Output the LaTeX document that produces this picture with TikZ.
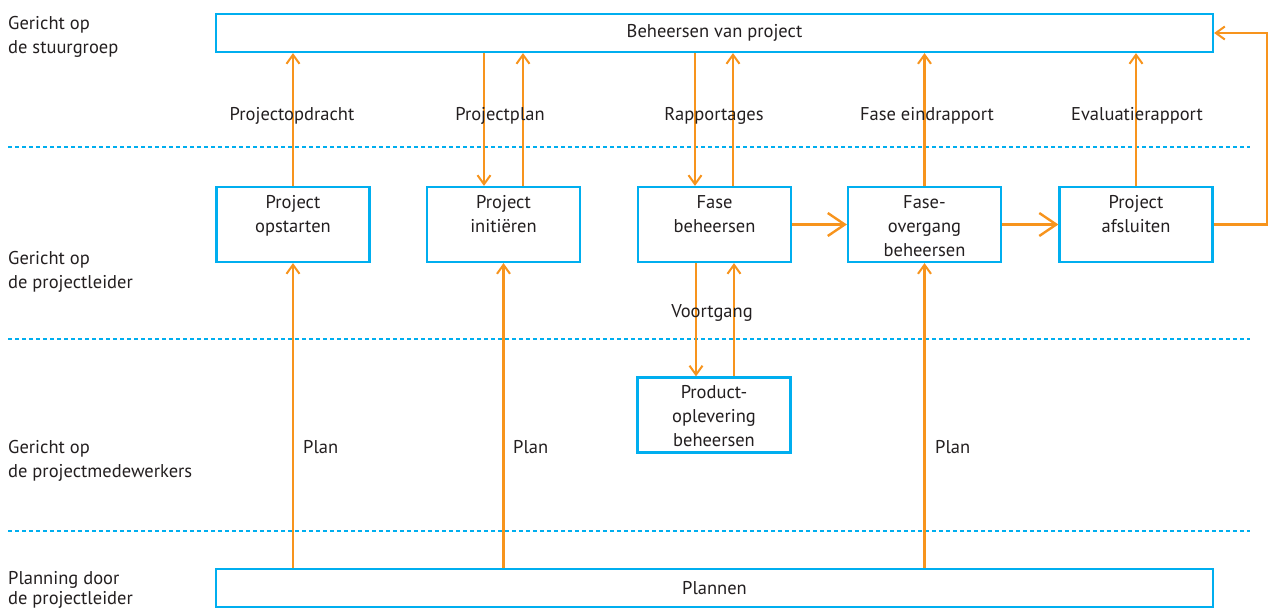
\documentclass[tikz,border=0pt]{standalone}
\usepackage{fontspec}
\setmainfont{PT Sans}
\usetikzlibrary{arrows.meta}
\definecolor{boxblue}{HTML}{00AEEF}
\definecolor{flow}{HTML}{F7941D}
\definecolor{ink}{HTML}{231F20}
\tikzset{
  box/.style={draw=boxblue, line width=2.2pt, fill=white, inner sep=0pt},
  smallbox/.style={box, minimum width=153pt, minimum height=75pt},
  widebox/.style={box, minimum width=997pt, minimum height=38pt},
  boxtext/.style={anchor=north, align=center, inner sep=0pt, yshift=-9pt, text=ink,
    font=\fontsize{18.5}{24}\selectfont},
  lbl/.style={text=ink, font=\fontsize{18.5}{24}\selectfont, inner sep=0pt},
  side/.style={lbl, anchor=north west, align=left},
  lane/.style={draw=boxblue, line width=2pt, dash pattern=on 4pt off 3pt},
  flowline/.style={draw=flow, line width=2.4pt},
  arr/.style={flowline, -{Straight Barb[length=9pt, width=13pt, line width=2pt]}},
  bigarr/.style={flowline, -{Straight Barb[length=17pt, width=23pt, line width=2.4pt]}},
}
\begin{document}
\begin{tikzpicture}[x=1pt, y=-1pt]
\useasboundingbox (0,0) rectangle (1271,610);

% swim-lane separators
\draw[lane] (8,147) -- (1250,147);
\draw[lane] (8,339) -- (1250,339);
\draw[lane] (8,531) -- (1250,531);

% lane titles
\node[side] (t1) at (8,16) {Gericht op\\de stuurgroep};
\node[side] (t2) at (8,251) {Gericht op\\de projectleider};
\node[side] (t3) at (8,440) {Gericht op\\de projectmedewerkers};
\node[side, font=\fontsize{18.5}{20}\selectfont] (t4) at (8,571) {Planning door\\de projectleider};

% process boxes
\node[widebox] (top) at (714.5,33) {};
\node[lbl] at (top.center) {Beheersen van project};
\node[widebox] (bot) at (714.5,588) {};
\node[lbl] at (bot.center) {Plannen};

\node[smallbox, label={[boxtext]north:{Project\\opstarten}}] (ops) at (293,224.5) {};
\node[smallbox, label={[boxtext]north:{Project\\initiëren}}] (ini) at (503.5,224.5) {};
\node[smallbox, label={[boxtext]north:{Fase\\beheersen}}] (fas) at (714.5,224.5) {};
\node[smallbox, label={[boxtext]north:{Fase-\\overgang\\beheersen}}] (ovg) at (924.5,224.5) {};
\node[smallbox, label={[boxtext]north:{Project\\afsluiten}}] (afs) at (1136,224.5) {};
\node[smallbox, label={[boxtext]north:{Product-\\oplevering\\beheersen}}] (prd) at (714,415) {};

% reports to the steering group
\draw[arr] (ops.north) -- (ops.north |- top.south);
\draw[arr] (top.south -| 484,0) -- (ini.north -| 484,0);
\draw[arr] (ini.north -| 523,0) -- (top.south -| 523,0);
\draw[arr] (top.south -| 695,0) -- (fas.north -| 695,0);
\draw[arr] (fas.north -| 733,0) -- (top.south -| 733,0);
\draw[arr] (ovg.north) -- (ovg.north |- top.south);
\draw[arr] (afs.north) -- (afs.north |- top.south);
\coordinate (loopA) at (1267,224.5);
\coordinate (loopB) at (1267,33);
\draw[arr] (afs.east) -- (loopA) -- (loopB) -- (top.east |- loopB);

\node[lbl] (l1) at (292,116) {Projectopdracht};
\node[lbl] (l2) at (500,116) {Projectplan};
\node[lbl] (l3) at (714,116) {Rapportages};
\node[lbl] (l4) at (927,116) {Fase eindrapport};
\node[lbl] (l5) at (1137,116) {Evaluatierapport};

% phase sequence
\draw[bigarr] (fas.east) -- (ovg.west);
\draw[bigarr] (ovg.east) -- (afs.west);

% progress with the team
\draw[arr] (fas.south -| 696,0) -- (prd.north -| 696,0);
\draw[arr] (prd.north -| 734,0) -- (fas.south -| 734,0);
\node[lbl] (l6) at (712,313) {Voortgang};

% planning
\draw[arr] (bot.north -| ops.south) -- (ops.south);
\draw[arr] (bot.north -| ini.south) -- (ini.south);
\draw[arr] (bot.north -| ovg.south) -- (ovg.south);
\node[lbl, anchor=west] (p1) at (303,447) {Plan};
\node[lbl, anchor=west] (p2) at (513,447) {Plan};
\node[lbl, anchor=west] (p3) at (935,447) {Plan};
\end{tikzpicture}
\end{document}
